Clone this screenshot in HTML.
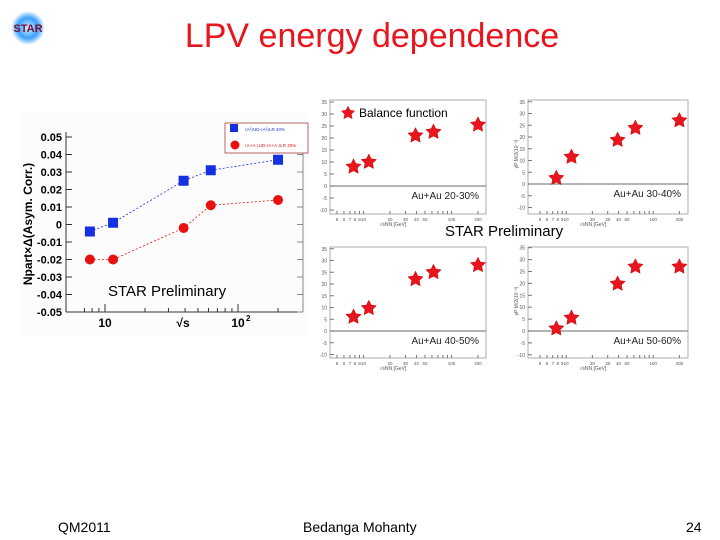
<!DOCTYPE html>
<html><head><meta charset="utf-8">
<style>
html,body{margin:0;padding:0;background:#fff;}
body{width:720px;height:540px;position:relative;overflow:hidden;font-family:"Liberation Sans",sans-serif;}
.t{position:absolute;white-space:nowrap;}
</style></head>
<body>
<svg style="position:absolute;left:10px;top:10px" width="36" height="36">
<defs><radialGradient id="g"><stop offset="0" stop-color="#cfefff"/><stop offset="0.6" stop-color="#3aa0ff"/><stop offset="1" stop-color="#3aa0ff" stop-opacity="0"/></radialGradient></defs>
<circle cx="18" cy="18" r="17" fill="url(#g)"/>
<text x="18" y="22" text-anchor="middle" font-size="11" font-weight="bold" fill="#7a1030" font-family="Liberation Sans">STAR</text>
</svg>
<div class="t" style="left:0;width:744px;text-align:center;top:17px;font-size:34px;color:#e8141e;">LPV energy dependence</div>
<svg id="c" width="720" height="540" style="position:absolute;left:0;top:0"></svg>
<div class="t" style="left:58px;top:519px;font-size:14px;">QM2011</div>
<div class="t" style="left:303px;top:519px;font-size:14px;">Bedanga Mohanty</div>
<div class="t" style="left:686px;top:519px;font-size:14px;">24</div>
<script>
// Left chart data
const energies = [7.7, 11.5, 39, 62.4, 200];
const blueVals = [-0.004, 0.001, 0.025, 0.031, 0.037];
const redVals = [-0.020, -0.020, -0.002, 0.011, 0.014];
const leftYTicks = [0.05,0.04,0.03,0.02,0.01,0,-0.01,-0.02,-0.03,-0.04,-0.05];
const leftYLabels = ["0.05","0.04","0.03","0.02","0.01","0","-0.01","-0.02","-0.03","-0.04","-0.05"];
// Balance function panels
const panelLabels = ["Au+Au 20-30%","Au+Au 30-40%","Au+Au 40-50%","Au+Au 50-60%"];
const bf2030 = [8, 10, 21, 22.5, 25.5];
const bf3040 = [2.5, 11.5, 18.7, 23.8, 27];
const bf4050 = [6, 9.7, 22, 25, 28];
const bf5060 = [1, 5.5, 19.8, 27, 27];
const panelYTicks = [35,30,25,20,15,10,5,0,-5,-10];

const svg=document.getElementById('c');
const NS='http://www.w3.org/2000/svg';
function mk(tag,at,parent){const e=document.createElementNS(NS,tag);for(const k in at)e.setAttribute(k,at[k]);(parent||svg).appendChild(e);return e;}
function txt(x,y,s,at,parent){const e=mk('text',Object.assign({x:x,y:y,'font-family':'Liberation Sans'},at),parent);e.textContent=s;return e;}
function starPath(cx,cy,r){let p='';for(let i=0;i<10;i++){const a=-Math.PI/2+i*Math.PI/5;const rr=i%2?r*0.5:r;p+=(i?'L':'M')+(cx+rr*Math.cos(a)).toFixed(1)+','+(cy+rr*Math.sin(a)).toFixed(1);}return p+'Z';}

// ---- Left chart
const L={x0:66,x1:303,yTop:137,yBot:312};
const lx=v=>105+(Math.log10(v)-1)*133;
const ly=v=>224.5-v*1750;
let g=mk('g',{});


mk('rect',{x:20,y:112,width:288,height:223,fill:'#fcfcfc'},g);
mk('line',{x1:L.x0,y1:L.yTop-5,x2:L.x0,y2:L.yBot,stroke:'#333','stroke-width':1},g);
mk('line',{x1:L.x0,y1:L.yBot,x2:L.x1,y2:L.yBot,stroke:'#333','stroke-width':1},g);
mk('line',{x1:L.x1,y1:L.yTop-5,x2:L.x1,y2:L.yBot,stroke:'#888','stroke-width':1},g);
leftYTicks.forEach((v,i)=>{const y=ly(v);mk('line',{x1:L.x0,y1:y,x2:L.x0+6,y2:y,stroke:'#333'},g);mk('line',{x1:L.x1,y1:y,x2:L.x1-6,y2:y,stroke:'#888'},g);
 const t=txt(L.x0-4,y+4,leftYLabels[i],{'font-size':11,'font-weight':'bold','text-anchor':'end'},g);});
[7,8,9,10,20,30,40,50,60,70,80,90,100,200].forEach(v=>{const x=lx(v);const big=(v===10||v===100);mk('line',{x1:x,y1:L.yBot,x2:x,y2:L.yBot-(big?8:4),stroke:'#333'},g);});
txt(lx(10),327,'10',{'font-size':12,'font-weight':'bold','text-anchor':'middle'},g);
txt(lx(100),327,'10',{'font-size':12,'font-weight':'bold','text-anchor':'middle'},g);
txt(lx(100)+8,321,'2',{'font-size':8,'font-weight':'bold'},g);
txt(183,327,'√s',{'font-size':12,'font-weight':'bold','text-anchor':'middle'},g);
const yt=txt(0,0,'Npart×Δ(Asym. Corr.)',{'font-size':12,'font-weight':'bold','text-anchor':'middle',transform:'translate(32,224) rotate(-90)'},g);

function series(vals,color,shape,name){
 const pts=energies.map((e,i)=>[lx(e),ly(vals[i])]);
 const pl=mk('polyline',{points:pts.map(p=>p.join(',')).join(' '),fill:'none',stroke:color,'stroke-width':0.8,'stroke-dasharray':'2,2'},g);
 
 pts.forEach(p=>{let m;if(shape==='sq')m=mk('rect',{x:p[0]-5,y:p[1]-5,width:10,height:10,fill:color},g);else m=mk('circle',{cx:p[0],cy:p[1],r:5,fill:color},g);
  });
}
series(blueVals,'#1530e0','sq','blue-series');
series(redVals,'#e81010','ci','red-series');
const lg=mk('g',{},g);
mk('rect',{x:225,y:123,width:83,height:30,fill:'#fff',stroke:'#800','stroke-width':0.6},lg);
mk('rect',{x:230,y:124,width:8,height:8,fill:'#1530e0'},lg);
mk('circle',{cx:235,cy:145,r:4.5,fill:'#e81010'},lg);
txt(245,131,'⟨A²⟩UD-⟨A²⟩LR 40%',{'font-size':4.5,fill:'#1530e0'},lg);
txt(245,147,'⟨A+A-⟩UD-⟨A+A-⟩LR 40%',{'font-size':4.5,fill:'#e81010'},lg);
txt(108,296,'STAR Preliminary',{'font-size':15});

// ---- Panels
const panels=[
 {x0:330,x1:486,y0:100,y1:214,zero:186,sc:2.4,x5:337,dec:88,vals:bf2030},
 {x0:528,x1:688,y0:100,y1:214,zero:184,sc:2.35,x5:540,dec:87,vals:bf3040},
 {x0:330,x1:486,y0:247,y1:358,zero:331,sc:2.35,x5:337,dec:88,vals:bf4050},
 {x0:528,x1:688,y0:247,y1:358,zero:331,sc:2.38,x5:540,dec:87,vals:bf5060}];
panels.forEach((P,pi)=>{
 const pg=mk('g',{});
 const px=v=>P.x5+(Math.log10(v)-Math.log10(5))*P.dec;
 const py=v=>P.zero-v*P.sc;
 mk('rect',{x:P.x0,y:P.y0,width:P.x1-P.x0,height:P.y1-P.y0,fill:'#fff',stroke:'#999','stroke-width':0.8},pg);
 mk('line',{x1:P.x0,y1:py(0),x2:P.x1,y2:py(0),stroke:'#888','stroke-width':1.2},pg);
 panelYTicks.forEach(v=>{const y=py(v);if(y<P.y0-2||y>P.y1)return;mk('line',{x1:P.x0,y1:y,x2:P.x0+4,y2:y,stroke:'#777'},pg);txt(P.x0-3,y+2,String(v),{'font-size':5,'text-anchor':'end',fill:'#555'},pg);});
 [5,6,7,8,9,10,20,30,40,50,60,70,80,90,100,200].forEach(v=>{const x=px(v);mk('line',{x1:x,y1:P.y1,x2:x,y2:P.y1-3,stroke:'#777'},pg);if([5,6,7,8,9,10,20,30,40,50,100,200].includes(v))txt(x,P.y1+7,String(v),{'font-size':4.5,'text-anchor':'middle',fill:'#555'},pg);});
 txt((P.x0+P.x1)/2-15,P.y1+12,'√sNN [GeV]',{'font-size':5,'text-anchor':'middle',fill:'#555'},pg);
 if(pi%2===1)txt(0,0,'γP M/2(10⁻³)',{'font-size':5,fill:'#555','text-anchor':'middle',transform:'translate('+(P.x0-10)+','+(P.zero-30)+') rotate(-90)'},pg);
 txt(P.x1-7,P.zero+13,panelLabels[pi],{'font-size':10,'text-anchor':'end',fill:'#222'},pg);
 energies.forEach((e,i)=>{const s=mk('path',{d:starPath(px(e),py(P.vals[i]),8),fill:'#e8141e',stroke:'#c00','stroke-width':0.5},pg);
  });
});
mk('path',{d:starPath(348,113,7.5),fill:'#e8141e'});
txt(359,117,'Balance function',{'font-size':12});
txt(445,236,'STAR Preliminary',{'font-size':15});
</script>
</body></html>
